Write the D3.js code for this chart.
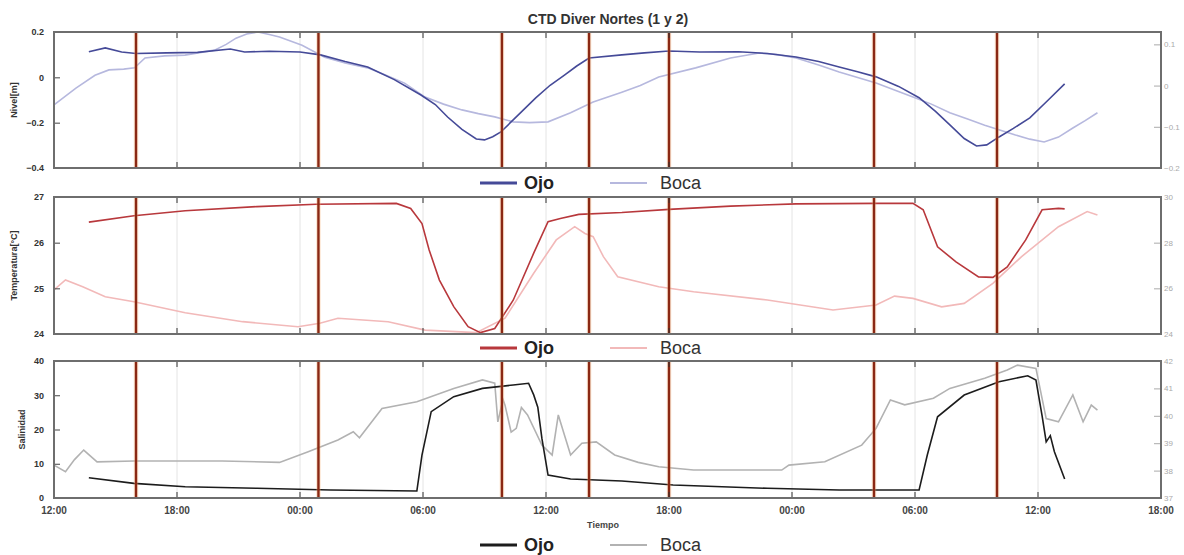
<!DOCTYPE html>
<html>
<head>
<meta charset="utf-8">
<script src="https://cdn.jsdelivr.net/npm/d3@7"></script>
<style>
  body { margin: 0; background: #fff; }
  svg { font-family: Arial, "Liberation Sans", sans-serif; }
</style>
</head>
<body>
<svg id="chart" width="1184" height="555"></svg>
<script>
// time axis: hours after 12:00 of the first day
var xTickHours = [0, 6, 12, 18, 24, 30, 36, 42, 48, 54];
var xTickLabels = ['12:00', '18:00', '00:00', '06:00', '12:00', '18:00', '00:00', '06:00', '12:00', '18:00'];
var eventHours = [4, 12.9, 21.85, 26.1, 30, 40, 46];

// Nivel [m]  (Ojo -> left axis, Boca -> right axis)
var nivelOjo = [[1.7, 0.113], [2.5, 0.13], [3.3, 0.112], [4, 0.105], [5.5, 0.108], [7, 0.11], [8.6, 0.125], [9.3, 0.112],
  [10.5, 0.115], [12, 0.112], [13, 0.099], [14.2, 0.07], [15.3, 0.046], [16.6, -0.01], [17.9, -0.078], [18.6, -0.12],
  [19.2, -0.175], [19.9, -0.23], [20.6, -0.272], [21.0, -0.276], [21.4, -0.262], [21.8, -0.241], [22.6, -0.17],
  [23.5, -0.091], [24.2, -0.035], [24.9, 0.01], [25.5, 0.05], [26.1, 0.085], [27.7, 0.099], [28.8, 0.108], [30, 0.116],
  [31.5, 0.112], [33.4, 0.113], [34.8, 0.105], [36.2, 0.09], [37.3, 0.07], [38.3, 0.046], [39.2, 0.025], [40.1, 0.002],
  [41.2, -0.04], [42.2, -0.09], [43.0, -0.15], [43.7, -0.21], [44.4, -0.27], [45.0, -0.303], [45.5, -0.298],
  [46.1, -0.263], [46.8, -0.225], [47.6, -0.179], [48.5, -0.1], [49.3, -0.029]];
var nivelBoca = [[0, -0.047], [1.07, -0.006], [2.0, 0.025], [2.68, 0.038], [3.4, 0.04], [3.93, 0.043], [4.44, 0.067],
  [5.4, 0.072], [6.39, 0.074], [7.1, 0.08], [7.83, 0.086], [8.4, 0.1], [8.88, 0.115], [9.4, 0.125], [9.95, 0.13],
  [10.5, 0.124], [11.0, 0.118], [12.1, 0.098], [13.2, 0.069], [14.2, 0.055], [15.3, 0.043], [16.2, 0.025], [17.1, 0.006],
  [18.1, -0.028], [19.0, -0.045], [19.9, -0.059], [20.7, -0.068], [21.5, -0.076], [22.4, -0.088], [23.2, -0.09],
  [24.1, -0.088], [25.2, -0.066], [26.3, -0.04], [27.7, -0.016], [28.6, 0.0], [29.5, 0.021], [31.3, 0.043],
  [33.0, 0.067], [34.4, 0.079], [35.3, 0.075], [36.2, 0.067], [37.3, 0.05], [38.3, 0.033], [40.1, 0.006],
  [41.9, -0.028], [42.8, -0.045], [43.7, -0.066], [44.6, -0.082], [45.4, -0.096], [46.9, -0.12], [47.6, -0.13],
  [48.3, -0.137], [49.0, -0.125], [49.7, -0.103], [50.3, -0.085], [50.9, -0.066]];

// Temperatura [°C]  (Ojo -> left axis, Boca -> right axis)
var tempOjo = [[1.7, 26.45], [3.9, 26.59], [6.4, 26.7], [9.9, 26.79], [12.8, 26.84], [16.7, 26.86], [17.4, 26.75],
  [17.95, 26.42], [18.3, 25.84], [18.8, 25.18], [19.5, 24.6], [20.2, 24.16], [20.8, 24.03], [21.5, 24.12],
  [22.4, 24.74], [23.4, 25.77], [24.1, 26.46], [24.7, 26.53], [25.6, 26.62], [27.7, 26.66], [30, 26.73],
  [33, 26.8], [36.2, 26.85], [40.1, 26.86], [41.9, 26.86], [42.4, 26.72], [43.1, 25.91], [44.0, 25.58],
  [45.1, 25.25], [45.8, 25.24], [46.5, 25.47], [47.4, 26.06], [48.2, 26.72], [49.0, 26.75], [49.3, 26.74]];
var tempBoca = [[0, 25.93], [0.56, 26.37], [1.4, 26.07], [2.5, 25.63], [3.9, 25.41], [6.4, 24.93], [9.2, 24.54],
  [11.9, 24.32], [12.97, 24.47], [13.85, 24.69], [16.3, 24.54], [18.1, 24.17], [20.6, 24.06], [22.0, 24.69],
  [23.4, 26.66], [24.5, 28.12], [25.4, 28.7], [25.9, 28.4], [26.3, 28.26], [26.8, 27.39], [27.5, 26.51],
  [29.5, 26.07], [31.2, 25.85], [34.8, 25.49], [38.0, 25.05], [40.1, 25.27], [41.0, 25.66], [41.9, 25.56],
  [43.3, 25.19], [44.4, 25.34], [45.8, 26.22], [47.2, 27.39], [49.0, 28.7], [50.4, 29.36], [50.9, 29.21]];

// Salinidad  (Ojo -> left axis, Boca -> right axis)
var salOjo = [[1.7, 5.93], [3.9, 4.28], [6.4, 3.3], [9.9, 2.83], [13.5, 2.33], [17.7, 2.04], [17.95, 12.55],
  [18.4, 25.2], [19.5, 29.58], [20.9, 32.0], [22.4, 33.0], [23.15, 33.5], [23.4, 30.1], [23.6, 26.5], [23.8, 17.4],
  [24.1, 6.7], [25.2, 5.55], [27.7, 4.96], [30.2, 3.8], [34.8, 2.83], [38.3, 2.33], [42.2, 2.33], [42.6, 12.55],
  [43.1, 23.7], [44.4, 30.07], [46.1, 33.96], [47.5, 35.7], [47.9, 34.45], [48.2, 24.0], [48.4, 16.4],
  [48.6, 18.2], [48.8, 13.5], [49.3, 5.55]];
var salBoca = [[0, 38.2], [0.56, 37.96], [1.0, 38.4], [1.45, 38.75], [2.1, 38.32], [3.9, 38.35], [8.2, 38.35],
  [11.0, 38.3], [12.4, 38.69], [13.85, 39.12], [14.6, 39.42], [14.9, 39.2], [16.0, 40.27], [17.7, 40.51],
  [19.5, 41.0], [20.9, 41.31], [21.5, 41.19], [21.65, 39.78], [21.9, 40.6], [22.0, 40.39], [22.3, 39.4],
  [22.55, 39.54], [22.8, 40.3], [23.1, 40.03], [23.8, 38.93], [24.3, 38.57], [24.6, 40.03], [24.85, 39.42],
  [25.2, 38.57], [25.75, 39.0], [26.45, 39.05], [27.35, 38.57], [28.5, 38.3], [29.5, 38.14], [31.2, 38.02],
  [35.5, 38.02], [35.85, 38.2], [37.6, 38.32], [39.4, 38.93], [40.1, 39.54], [40.8, 40.58], [41.5, 40.4],
  [42.9, 40.64], [43.7, 41.0], [45.4, 41.37], [46.5, 41.67], [47.0, 41.85], [47.9, 41.73], [48.4, 39.9],
  [49.0, 39.78], [49.7, 40.76], [50.2, 39.78], [50.6, 40.39], [50.9, 40.21]];

var svg = d3.select('#chart');
var left = 54, right = 1161;

var x = d3.scaleLinear().domain([0, 54]).range([left, right]);

var panels = [
  { top: 32, bottom: 168, yLabel: 'Nivel[m]', labelX: 14,
    leftDomain: [-0.4, 0.2], leftTicks: [-0.4, -0.2, 0, 0.2], leftFmt: function(d) { return d === 0 ? '0' : d3.format('.1f')(d); },
    rightDomain: [-0.2, 0.13], rightTicks: [-0.2, -0.1, 0, 0.1], rightFmt: function(d) { return d === 0 ? '0' : d3.format('.1f')(d); },
    ojo: nivelOjo, boca: nivelBoca, ojoColor: '#454a98', bocaColor: '#b6b8de', legendY: 183 },
  { top: 197, bottom: 334, yLabel: 'Temperatura[°C]', labelX: 14,
    leftDomain: [24, 27], leftTicks: [24, 25, 26, 27], leftFmt: d3.format('d'),
    rightDomain: [24, 30], rightTicks: [24, 26, 28, 30], rightFmt: d3.format('d'),
    ojo: tempOjo, boca: tempBoca, ojoColor: '#b8383c', bocaColor: '#f2b9b9', legendY: 348 },
  { top: 361, bottom: 498, yLabel: 'Salinidad', labelX: 22,
    leftDomain: [0, 40], leftTicks: [0, 10, 20, 30, 40], leftFmt: d3.format('d'),
    rightDomain: [37, 42], rightTicks: [37, 38, 39, 40, 41, 42], rightFmt: d3.format('d'),
    ojo: salOjo, boca: salBoca, ojoColor: '#1c1c1c', bocaColor: '#b2b2b2', legendY: 545 }
];

panels.forEach(function(p, i) {
  var yL = d3.scaleLinear().domain(p.leftDomain).range([p.bottom, p.top]);
  var yR = d3.scaleLinear().domain(p.rightDomain).range([p.bottom, p.top]);
  var g = svg.append('g').attr('class', 'panel');

  // faint grid at each time tick
  g.selectAll('.grid')
    .data(xTickHours.slice(1, -1))
    .enter()
    .append('line')
    .attr('x1', function(d) { return x(d); })
    .attr('x2', function(d) { return x(d); })
    .attr('y1', p.top)
    .attr('y2', p.bottom)
    .attr('stroke', '#e4e4e4')
    .attr('stroke-width', 1);

  // series
  var lineL = d3.line().x(function(d) { return x(d[0]); }).y(function(d) { return yL(d[1]); });
  var lineR = d3.line().x(function(d) { return x(d[0]); }).y(function(d) { return yR(d[1]); });
  g.append('path')
    .attr('d', lineR(p.boca))
    .attr('fill', 'none')
    .attr('stroke', p.bocaColor)
    .attr('stroke-width', 1.6);
  g.append('path')
    .attr('d', lineL(p.ojo))
    .attr('fill', 'none')
    .attr('stroke', p.ojoColor)
    .attr('stroke-width', 1.6);

  // event lines
  var ev = g.selectAll('.event')
    .data(eventHours)
    .enter()
    .append('g');
  ev.append('line')
    .attr('x1', function(d) { return x(d); })
    .attr('x2', function(d) { return x(d); })
    .attr('y1', p.top)
    .attr('y2', p.bottom)
    .attr('stroke', '#f6b070')
    .attr('stroke-opacity', 0.35)
    .attr('stroke-width', 4.5);
  ev.append('line')
    .attr('x1', function(d) { return x(d); })
    .attr('x2', function(d) { return x(d); })
    .attr('y1', p.top)
    .attr('y2', p.bottom)
    .attr('stroke', '#8a2814')
    .attr('stroke-width', 2.4);

  // x ticks (inward, top and bottom)
  g.selectAll('.xtb')
    .data(xTickHours)
    .enter()
    .append('line')
    .attr('x1', function(d) { return x(d); })
    .attr('x2', function(d) { return x(d); })
    .attr('y1', p.bottom)
    .attr('y2', p.bottom - 6)
    .attr('stroke', '#333');
  g.selectAll('.xtt')
    .data(xTickHours)
    .enter()
    .append('line')
    .attr('x1', function(d) { return x(d); })
    .attr('x2', function(d) { return x(d); })
    .attr('y1', p.top)
    .attr('y2', p.top + 6)
    .attr('stroke', '#333');

  // left axis
  var axL = g.append('g')
    .attr('transform', 'translate(' + left + ',0)')
    .call(d3.axisLeft(yL).tickValues(p.leftTicks).tickFormat(p.leftFmt).tickSizeInner(-6).tickSizeOuter(0).tickPadding(10));
  axL.select('.domain').remove();
  axL.selectAll('line').attr('stroke', '#444');
  axL.selectAll('text').attr('font-size', 9).attr('font-weight', 'bold').attr('fill', '#333');

  // right axis
  var axR = g.append('g')
    .attr('transform', 'translate(' + right + ',0)')
    .call(d3.axisRight(yR).tickValues(p.rightTicks).tickFormat(p.rightFmt).tickSizeInner(-7).tickSizeOuter(0).tickPadding(3));
  axR.select('.domain').remove();
  axR.selectAll('line').attr('stroke', '#aaa');
  axR.selectAll('text').attr('font-size', 8).attr('fill', '#aaa');

  // frame
  g.append('rect')
    .attr('x', left)
    .attr('y', p.top)
    .attr('width', right - left)
    .attr('height', p.bottom - p.top)
    .attr('fill', 'none')
    .attr('stroke', '#6e6e6e')
    .attr('stroke-width', 2);

  // y label
  g.append('text')
    .attr('transform', 'translate(' + p.labelX + ',' + ((p.top + p.bottom) / 2) + ') rotate(-90)')
    .attr('text-anchor', 'middle')
    .attr('dy', '0.35em')
    .attr('font-size', 9)
    .attr('font-weight', 'bold')
    .attr('fill', '#333')
    .text(p.yLabel);

  // legend
  var lg = g.append('g').attr('transform', 'translate(0,' + p.legendY + ')');
  lg.append('line').attr('x1', 480).attr('x2', 517).attr('y1', 0).attr('y2', 0)
    .attr('stroke', p.ojoColor).attr('stroke-width', 3);
  lg.append('text').attr('x', 524).attr('y', 0).attr('dy', '0.35em')
    .attr('font-size', 18).attr('font-weight', 'bold').attr('fill', '#222').text('Ojo');
  lg.append('line').attr('x1', 610).attr('x2', 647).attr('y1', 0).attr('y2', 0)
    .attr('stroke', p.bocaColor).attr('stroke-width', 2);
  lg.append('text').attr('x', 660).attr('y', 0).attr('dy', '0.35em')
    .attr('font-size', 18).attr('fill', '#333').text('Boca');

  // time labels only under the last panel
  if (i === panels.length - 1) {
    g.selectAll('.xlab')
      .data(xTickHours)
      .enter()
      .append('text')
      .attr('x', function(d) { return x(d); })
      .attr('y', p.bottom + 16)
      .attr('text-anchor', 'middle')
      .attr('font-size', 10)
      .attr('font-weight', 'bold')
      .attr('fill', '#444')
      .text(function(d, j) { return xTickLabels[j]; });
    g.append('text')
      .attr('x', 603)
      .attr('y', p.bottom + 30)
      .attr('text-anchor', 'middle')
      .attr('font-size', 9)
      .attr('font-weight', 'bold')
      .attr('fill', '#444')
      .text('Tiempo');
  }
});

// title
svg.append('text')
  .attr('x', 608)
  .attr('y', 24)
  .attr('text-anchor', 'middle')
  .attr('font-size', 14)
  .attr('font-weight', 'bold')
  .attr('fill', '#333')
  .text('CTD Diver Nortes (1 y 2)');
</script>
</body>
</html>
